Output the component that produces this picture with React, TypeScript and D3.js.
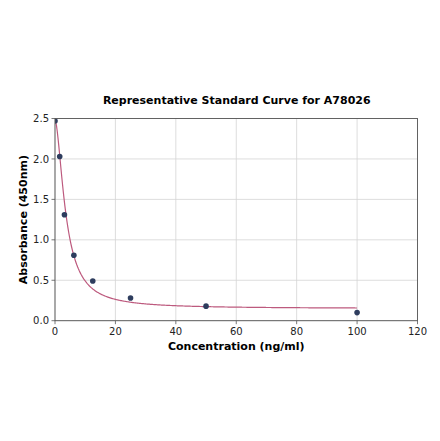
import React from "react";
import * as d3 from "d3";

const concentrations = [0, 1.5625, 3.125, 6.25, 12.5, 25, 50, 100];
const absorbances = [2.47, 2.03, 1.31, 0.81, 0.49, 0.28, 0.18, 0.1];
const xTicks = [0, 20, 40, 60, 80, 100, 120];
const yTicks = [0, 0.5, 1.0, 1.5, 2.0, 2.5];

// fitted 4PL curve parameters (top, bottom, ec50, slope)
const fitTop = 2.48;
const fitBottom = 0.15;
const fitC = 3.63;
const fitB = 1.74;

const W = 440;
const H = 441;
const left = 55;
const right = 417.5;
const top = 118.5;
const bottom = 320.7;

const App: React.FC = () => {
  const x = d3.scaleLinear().domain([0, 120]).range([left, right]);
  const y = d3.scaleLinear().domain([0, 2.5]).range([bottom, top]);

  const fit = (c: number) =>
    fitBottom + (fitTop - fitBottom) / (1 + Math.pow(c / fitC, fitB));
  const curveXs = d3.range(0, 100.001, 0.25);
  const line = d3
    .line<number>()
    .x((d) => x(d))
    .y((d) => y(fit(d)));

  const font = "DejaVu Sans, sans-serif";

  return (
    <svg
      width={W}
      height={H}
      style={{ position: "absolute", left: 0, top: 0, background: "#fff" }}
    >
      <defs>
        <clipPath id="plot">
          <rect x={left} y={top} width={right - left} height={bottom - top} />
        </clipPath>
      </defs>
      {xTicks.map((t) => (
        <line
          key={"gx" + t}
          x1={x(t)}
          x2={x(t)}
          y1={top}
          y2={bottom}
          stroke="#d4d4d4"
          strokeWidth={0.8}
        />
      ))}
      {yTicks.map((t) => (
        <line
          key={"gy" + t}
          x1={left}
          x2={right}
          y1={y(t)}
          y2={y(t)}
          stroke="#d4d4d4"
          strokeWidth={0.8}
        />
      ))}
      <g clipPath="url(#plot)">
        <path
          d={line(curveXs) || ""}
          fill="none"
          stroke="#bd5a7e"
          strokeWidth={1.2}
        />
        {concentrations.map((c, i) => (
          <circle
            key={"p" + i}
            cx={x(c)}
            cy={y(absorbances[i])}
            r={2.8}
            fill="#2e3d5e"
          />
        ))}
      </g>
      <rect
        x={left}
        y={top}
        width={right - left}
        height={bottom - top}
        fill="none"
        stroke="#555"
        strokeWidth={0.9}
      />
      {xTicks.map((t) => (
        <g key={"xt" + t}>
          <line x1={x(t)} x2={x(t)} y1={bottom} y2={bottom + 3.5} stroke="#555" strokeWidth={0.8} />
          <text
            x={x(t)}
            y={bottom + 14}
            textAnchor="middle"
            fontFamily={font}
            fontSize={10}
            fill="#222"
          >
            {t}
          </text>
        </g>
      ))}
      {yTicks.map((t) => (
        <g key={"yt" + t}>
          <line x1={left - 3.5} x2={left} y1={y(t)} y2={y(t)} stroke="#555" strokeWidth={0.8} />
          <text
            x={left - 6}
            y={y(t) + 3.6}
            textAnchor="end"
            fontFamily={font}
            fontSize={10}
            fill="#222"
          >
            {t.toFixed(1)}
          </text>
        </g>
      ))}
      <text
        x={(left + right) / 2 + 0.5}
        y={103.5}
        textAnchor="middle"
        fontFamily={font}
        fontSize={11}
        fontWeight="bold"
        fill="#000"
      >
        Representative Standard Curve for A78026
      </text>
      <text
        x={(left + right) / 2}
        y={350}
        textAnchor="middle"
        fontFamily={font}
        fontSize={11}
        fontWeight="bold"
        fill="#000"
      >
        Concentration (ng/ml)
      </text>
      <text
        transform={`translate(27,${(top + bottom) / 2}) rotate(-90)`}
        textAnchor="middle"
        fontFamily={font}
        fontSize={11}
        fontWeight="bold"
        fill="#000"
      >
        Absorbance (450nm)
      </text>
    </svg>
  );
};

export default App;
